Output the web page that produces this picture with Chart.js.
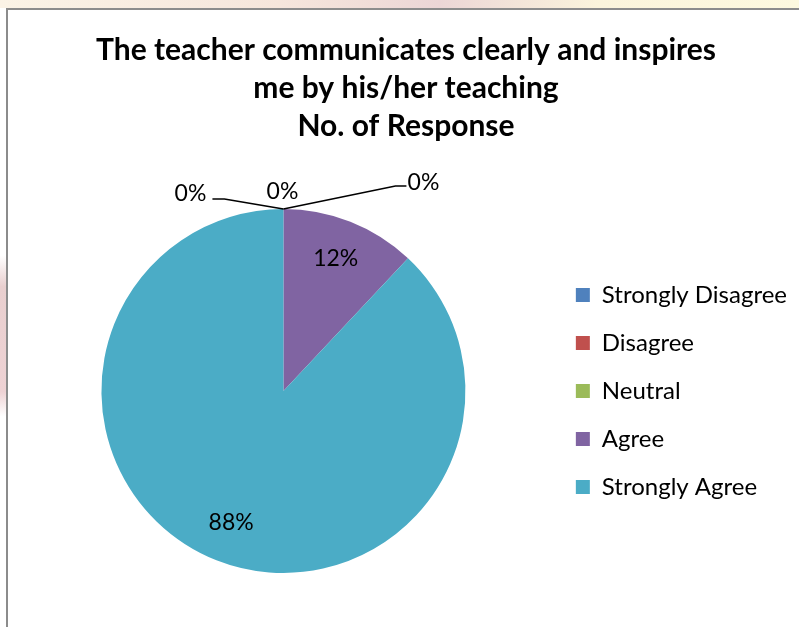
<!DOCTYPE html>
<html>
<head>
<meta charset="utf-8">
<script src="https://cdn.jsdelivr.net/npm/chart.js@4.4.0/dist/chart.umd.min.js"></script>
<style>
    html, body { margin: 0; padding: 0; width: 799px; height: 627px; overflow: hidden; background: #fff; }
    body { position: relative; }
    .strip-top { position: absolute; left: 0; top: 0; width: 799px; height: 8px;
        background: linear-gradient(to right, #fbf3e6 0%, #f6e6dc 35%, #ecd6d6 55%, #fbf4dc 75%, #fdf9df 100%); }
    .strip-left { position: absolute; left: 0; top: 8px; width: 6px; height: 619px;
        background: linear-gradient(to bottom, #fff 0%, #fff 40%, #e9cfcf 45%, #eed2d4 62%, #fff 66%, #fff 100%); }
    .frame { position: absolute; left: 6px; top: 8px; width: 793px; height: 619px;
        border-top: 2px solid #8c8c8c; border-left: 2px solid #8c8c8c; box-sizing: border-box; background: #fff; }
    #chart { position: absolute; left: 8px; top: 10px; }
</style>
</head>
<body>
<div class="strip-top"></div>
<div class="strip-left"></div>
<div class="frame"></div>
<canvas id="chart" width="791" height="617"></canvas>
<script>
const categories = ['Strongly Disagree', 'Disagree', 'Neutral', 'Agree', 'Strongly Agree'];
const responses = [0, 0, 0, 12, 88];
const titleLines = ['The teacher communicates clearly and inspires', 'me by his/her teaching', 'No. of Response'];
const sliceColors = ['#4F81BD', '#C0504D', '#9BBB59', '#8064A2', '#4BACC6'];

const fontFamily = "Lato, 'Open Sans', sans-serif";

// percentage labels, with leader lines for the empty slices at the top
const pieLabels = {
    id: 'pieLabels',
    afterDatasetsDraw(chart) {
        const ctx = chart.ctx;
        const meta = chart.getDatasetMeta(0);
        const values = chart.data.datasets[0].data;
        const total = values.reduce((a, b) => a + b, 0);
        // offsets of zero-slice labels from the slice's outer point
        const zeroSpots = [
            { tx: -93, ty: -15, line: [[-59, -10], [-71, -10]] },
            { tx: -1, ty: -17, line: null },
            { tx: 140, ty: -26, line: [[112, -23], [123, -23]] }
        ];
        let zeroIdx = 0;
        ctx.save();
        ctx.font = `23px ${fontFamily}`;
        ctx.fillStyle = '#000';
        ctx.strokeStyle = '#000';
        ctx.lineWidth = 1.6;
        ctx.textAlign = 'center';
        ctx.textBaseline = 'middle';
        meta.data.forEach((arc, i) => {
            const p = arc.getProps(['x', 'y', 'startAngle', 'endAngle', 'outerRadius'], true);
            const txt = Math.round(values[i] / total * 100) + '%';
            if (values[i] > 0) {
                const mid = (p.startAngle + p.endAngle) / 2;
                const r = p.outerRadius * 0.78;
                ctx.fillText(txt, p.x + Math.cos(mid) * r, p.y + Math.sin(mid) * r);
            } else {
                const ax = p.x + Math.cos(p.startAngle) * p.outerRadius;
                const ay = p.y + Math.sin(p.startAngle) * p.outerRadius;
                const spot = zeroSpots[zeroIdx % zeroSpots.length];
                zeroIdx++;
                if (spot.line) {
                    ctx.beginPath();
                    ctx.moveTo(ax, ay);
                    spot.line.forEach(pt => ctx.lineTo(ax + pt[0], ay + pt[1]));
                    ctx.stroke();
                }
                ctx.fillText(txt, ax + spot.tx, ay + spot.ty);
            }
        });
        ctx.restore();
    }
};

new Chart(document.getElementById('chart'), {
    type: 'pie',
    data: {
        labels: categories,
        datasets: [{
            data: responses,
            backgroundColor: sliceColors,
            borderWidth: 0
        }]
    },
    options: {
        responsive: false,
        animation: false,
        layout: { padding: { left: 7, right: 2, top: 0, bottom: 54 } },
        plugins: {
            title: {
                display: true,
                text: titleLines,
                color: '#000',
                font: { family: fontFamily, size: 30, weight: 'bold', lineHeight: 38 / 30 },
                padding: { top: 21, bottom: 64 }
            },
            legend: {
                position: 'right',
                fullSize: false,
                labels: {
                    color: '#000',
                    boxWidth: 14,
                    boxHeight: 14,
                    padding: 24,
                    font: { family: fontFamily, size: 24 }
                }
            },
            tooltip: { enabled: false }
        }
    },
    plugins: [pieLabels]
});
</script>
</body>
</html>
